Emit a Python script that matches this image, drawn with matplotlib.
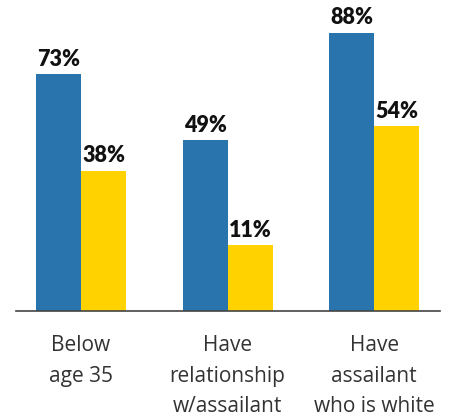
import matplotlib.pyplot as plt
import numpy as np

categories = ["Below\nage 35", "Have\nrelationship\nw/assailant", "Have\nassailant\nwho is white"]
blue_vals = [73, 49, 88]
yellow_vals = [38, 11, 54]

blue = "#2a74ae"
yellow = "#ffd200"
base = -12.9

fig = plt.figure(figsize=(4.51, 4.18), dpi=100)
ax = fig.add_axes([16/451, 107/418, 424/451, 308/418])

x = np.arange(len(categories))
w = 0.307
b1 = ax.bar(x - w/2, [v - base for v in blue_vals], w, bottom=base, color=blue)
b2 = ax.bar(x + w/2, [v - base for v in yellow_vals], w, bottom=base, color=yellow)

for bars, vals in [(b1, blue_vals), (b2, yellow_vals)]:
    for r, v in zip(bars, vals):
        ax.annotate(f"{v}%", (r.get_x() + r.get_width()/2, v), xytext=(0, 3),
                    textcoords="offset points", ha="center", va="bottom",
                    fontsize=15.5, fontweight="heavy", family="Lato", color="#111111")

ax.set_xlim(-0.444, 2.45)
ax.set_ylim(base, 98.7)
ax.set_xticks(x)
ax.set_xticklabels(categories, family="Open Sans", fontsize=15, color="#333333", linespacing=1.62)
ax.tick_params(axis="x", length=0, pad=17)
ax.set_yticks([])
for s in ["top", "right", "left"]:
    ax.spines[s].set_visible(False)
ax.spines["bottom"].set_color("#444444")
ax.spines["bottom"].set_linewidth(1.2)

fig.savefig("out.png", dpi=100)
